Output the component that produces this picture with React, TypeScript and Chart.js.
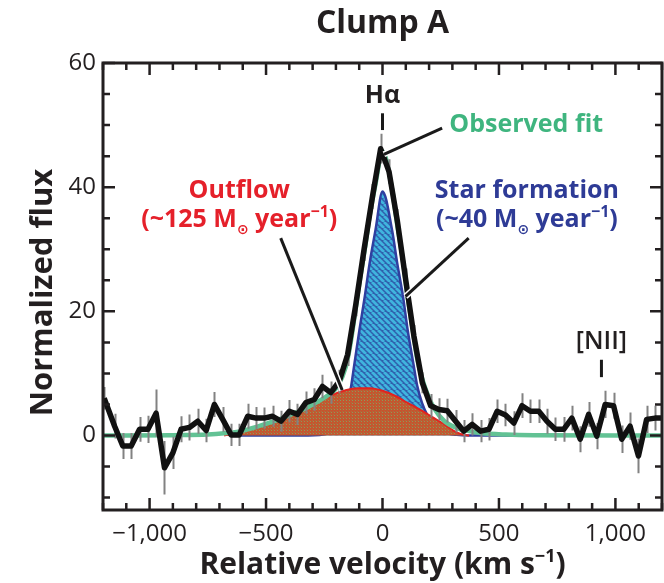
import React, { useEffect, useRef } from "react";
import { Chart, registerables } from "chart.js";

Chart.register(...registerables);

const FONT = "'Open Sans', 'Noto Sans', 'DejaVu Sans', sans-serif";

// ---- Observed spectrum (black) with error bars ----
const observedVelocity = [
  -1195, -1150, -1115, -1079, -1043, -1007, -972, -936, -900, -865, -829, -793, -757, -722, -686, -650, -615,
  -579, -543, -508, -472, -436, -400, -365, -329, -293, -258, -222, -186, -150, -115, -79, -43, -8, 28, 64,
  100, 135, 171, 207, 242, 278, 314, 349, 385, 421, 457, 492, 528, 564, 599, 635, 671, 706, 742, 778, 813,
  849, 885, 920, 956, 992, 1027, 1063, 1099, 1134, 1170, 1200,
];
const observedFlux = [
  6.0, 1.5, -1.7, -1.7, 1.0, 1.0, 3.6, -5.2, -2.8, 1.0, 1.3, 2.3, 0.8, 5.0, 2.6, 0.1, 0.1,
  3.1, 2.8, 2.8, 3.1, 2.3, 3.9, 3.4, 5.3, 5.8, 7.9, 6.9, 8.7, 13.0, 21.0, 30.0, 38.5, 46.2, 42.5, 34.5,
  25.0, 16.0, 8.5, 4.8, 4.2, 4.0, 2.3, 0.7, 1.8, 0.7, 1.0, 3.9, 3.3, 2.0, 4.8, 3.9, 3.9, 2.3, 1.0, 1.0, 2.8,
  -0.6, 3.4, -0.1, 5.0, 4.8, -0.6, 1.5, -3.3, 2.6, 2.8, 2.8,
];
const observedError = [
  1.8, 2.0, 2.1, 2.1, 2.0, 2.2, 3.8, 4.3, 2.6, 2.1, 2.1, 2.0, 1.9, 2.0, 2.0, 1.8, 1.8,
  2.0, 1.8, 1.7, 1.7, 1.7, 1.8, 1.7, 1.8, 1.8, 1.9, 1.8, 1.9, 1.8, 1.8, 1.9, 2.0, 2.4, 2.0, 2.0,
  1.9, 1.8, 1.7, 1.9, 1.8, 1.9, 1.8, 1.8, 1.8, 1.8, 1.8, 1.9, 1.8, 1.9, 2.0, 1.9, 1.9, 2.0, 1.9, 2.0, 2.0,
  2.1, 2.0, 2.1, 2.2, 2.1, 2.2, 2.2, 2.8, 2.2, 2.0, 0,
];

// ---- Observed fit (green) ----
const fitVelocity = [
  -1200, -900, -750, -680, -608, -531, -465, -425, -352, -319, -266, -234, -193, -158, -137, -120, -99, -76,
  -55, -30, 0, 41, 63, 88, 108, 132, 149, 170, 196, 223, 266, 319, 372, 420, 530, 650, 1200,
];
const fitFlux = [
  0, 0.05, 0.15, 0.35, 0.7, 1.5, 2.3, 2.9, 4.0, 4.6, 5.7, 6.5, 7.9, 11.0, 14.9, 19.2, 24.6, 30.0,
  35.4, 40.5, 45.8, 39.7, 34.0, 28.1, 22.3, 16.5, 12.4, 9.2, 6.4, 4.3, 2.3, 1.2, 0.7, 0.4, 0.15, 0.05, 0,
];

// ---- Outflow component (red) ----
const outflowVelocity = [
  -680, -651, -608, -531, -465, -425, -352, -319, -266, -212, -159, -106, -53, 0, 53, 106, 159, 212, 266, 308, 340, 372,
];
const outflowFlux = [
  0, 0.2, 0.6, 1.4, 2.2, 2.8, 4.0, 4.6, 5.6, 6.6, 7.3, 7.6, 7.6, 7.2, 6.4, 5.3, 4.2, 3.0, 1.8, 0.7, 0.2, 0,
];

// ---- Star formation component (blue) ----
const starVelocity = [
  -650, -319, -234, -193, -158, -137, -120, -99, -76, -55, -30, 0, 41, 63, 88, 108, 132, 149, 170, 196, 223, 266, 319, 372, 600,
];
const starFlux = [
  0, 0, 0.3, 1.0, 3.7, 7.4, 11.7, 17, 22.4, 27.8, 33.1, 39.3, 33.1, 27.8, 22.4, 17, 11.7, 8.0, 5.2, 3.0, 1.5, 0.5, 0.1, 0, 0,
];

// ---- Axes ----
const xMin = -1200;
const xMax = 1200;
const yMin = -12;
const yMax = 60;
const xMajorTicks = [-1000, -500, 0, 500, 1000];
const xTickLabels = ["\u22121,000", "\u2212500", "0", "500", "1,000"];
const xMinorStep = 100;
const yMajorTicks = [0, 20, 40, 60];
const yTickLabels = ["0", "20", "40", "60"];
const yMinorStep = 5;

const chartTitle = "Clump A";
const xTitle = "Relative velocity (km s";
const xTitleSup = "\u22121";
const yTitle = "Normalized flux";

// ---- Annotations (data coordinates) ----
const lineMarkers = [
  { label: "H\u03b1", v: 0, textY: 53.6, top: 51.9, bottom: 49.2 },
  { label: "[NII]", v: 940, textY: 14.0, top: 12.2, bottom: 9.4 },
];
const leaderLines = [
  { from: [256, 49.5], to: [6, 45.3] },
  { from: [-437, 31.8], to: [-173, 7.3] },
  { from: [370, 31.8], to: [99, 22.4] },
];

function makeStripePattern(ctx: CanvasRenderingContext2D): CanvasPattern | string {
  const c = document.createElement("canvas");
  c.width = 6;
  c.height = 6;
  const g = c.getContext("2d");
  if (!g) return "#3a86c4";
  g.fillStyle = "#2f60ad";
  g.fillRect(0, 0, 6, 6);
  g.strokeStyle = "#40b4de";
  g.lineWidth = 2.8;
  g.beginPath();
  for (let o = -6; o <= 6; o += 6) {
    g.moveTo(o, 0);
    g.lineTo(o + 6, 6);
  }
  g.stroke();
  return ctx.createPattern(c, "repeat") || "#3a86c4";
}

function makeDotPattern(ctx: CanvasRenderingContext2D): CanvasPattern | string {
  const c = document.createElement("canvas");
  c.width = 3;
  c.height = 3;
  const g = c.getContext("2d");
  if (!g) return "#b8603a";
  g.fillStyle = "#c4562f";
  g.fillRect(0, 0, 3, 3);
  g.fillStyle = "#8a9c5a";
  g.fillRect(1, 1, 1, 1);
  g.fillStyle = "#a87040";
  g.fillRect(0, 0, 1, 1);
  return ctx.createPattern(c, "repeat") || "#b8603a";
}

type Run = { text: string; size: number; dy?: number };

function drawRuns(
  ctx: CanvasRenderingContext2D,
  runs: Run[],
  cx: number,
  baseline: number,
  color: string,
  weight: string
) {
  let total = 0;
  const widths: number[] = [];
  for (const r of runs) {
    ctx.font = `${weight} ${r.size}px ${FONT}`;
    const w = ctx.measureText(r.text).width;
    widths.push(w);
    total += w;
  }
  let x = cx - total / 2;
  ctx.textAlign = "left";
  ctx.textBaseline = "alphabetic";
  ctx.fillStyle = color;
  runs.forEach((r, i) => {
    ctx.font = `${weight} ${r.size}px ${FONT}`;
    ctx.fillText(r.text, x, baseline + (r.dy || 0));
    x += widths[i];
  });
}

const errorBarPlugin = {
  id: "errorBars",
  beforeDatasetDraw(chart: any, args: any) {
    if (args.index !== 0) return;
    const { ctx, scales } = chart;
    const xs = scales.x;
    const ys = scales.y;
    ctx.save();
    ctx.strokeStyle = "#828282";
    ctx.lineWidth = 2;
    ctx.beginPath();
    observedVelocity.forEach((v, i) => {
      const e = observedError[i];
      if (!e) return;
      const px = Math.round(xs.getPixelForValue(v)) + 0.5;
      ctx.moveTo(px, ys.getPixelForValue(observedFlux[i] + e));
      ctx.lineTo(px, ys.getPixelForValue(observedFlux[i] - e));
    });
    ctx.stroke();
    ctx.restore();
  },
};

const decorPlugin = {
  id: "decor",
  afterDatasetsDraw(chart: any) {
    const { ctx, scales, chartArea } = chart;
    const xs = scales.x;
    const ys = scales.y;
    const { left, right, top, bottom } = chartArea;
    ctx.save();
    ctx.strokeStyle = "#231f20";
    ctx.lineCap = "butt";

    // ticks on all sides
    ctx.lineWidth = 2.5;
    ctx.beginPath();
    for (let v = Math.ceil(xMin / xMinorStep) * xMinorStep; v <= xMax; v += xMinorStep) {
      const px = xs.getPixelForValue(v);
      const len = xMajorTicks.includes(v) ? 12 : 7;
      ctx.moveTo(px, bottom);
      ctx.lineTo(px, bottom - len);
      ctx.moveTo(px, top);
      ctx.lineTo(px, top + len);
    }
    for (let v = Math.ceil(yMin / yMinorStep) * yMinorStep; v <= yMax; v += yMinorStep) {
      const py = ys.getPixelForValue(v);
      const len = yMajorTicks.includes(v) ? 12 : 7;
      ctx.moveTo(left, py);
      ctx.lineTo(left + len, py);
      ctx.moveTo(right, py);
      ctx.lineTo(right - len, py);
    }
    ctx.stroke();

    // frame
    ctx.lineWidth = 3;
    ctx.strokeRect(left, top, right - left, bottom - top);

    // leader lines with white halo
    for (const l of leaderLines) {
      const x1 = xs.getPixelForValue(l.from[0]);
      const y1 = ys.getPixelForValue(l.from[1]);
      const x2 = xs.getPixelForValue(l.to[0]);
      const y2 = ys.getPixelForValue(l.to[1]);
      ctx.strokeStyle = "#ffffff";
      ctx.lineWidth = 6;
      ctx.beginPath();
      ctx.moveTo(x1, y1);
      ctx.lineTo(x2, y2);
      ctx.stroke();
      ctx.strokeStyle = "#1a1a1a";
      ctx.lineWidth = 3;
      ctx.beginPath();
      ctx.moveTo(x1, y1);
      ctx.lineTo(x2, y2);
      ctx.stroke();
    }

    // line markers (H alpha, [NII])
    lineMarkers.forEach((m, i) => {
      const px = xs.getPixelForValue(m.v);
      ctx.strokeStyle = "#1a1a1a";
      ctx.lineWidth = 3;
      ctx.beginPath();
      ctx.moveTo(px, ys.getPixelForValue(m.top));
      ctx.lineTo(px, ys.getPixelForValue(m.bottom));
      ctx.stroke();
      drawRuns(ctx, [{ text: m.label, size: 25 }], px, ys.getPixelForValue(m.textY), "#231f20", i === 0 ? "700" : "600");
    });

    // component labels
    const outX = xs.getPixelForValue(-615);
    drawRuns(ctx, [{ text: "Outflow", size: 25 }], outX, ys.getPixelForValue(38.2), "#e5202a", "700");
    drawRuns(
      ctx,
      [
        { text: "(~125 M", size: 25 },
        { text: "\u2299", size: 14, dy: 7 },
        { text: " year", size: 25 },
        { text: "\u22121", size: 16, dy: -10 },
        { text: ")", size: 25 },
      ],
      outX,
      ys.getPixelForValue(33.6),
      "#e5202a",
      "700"
    );
    const sfX = xs.getPixelForValue(620);
    drawRuns(ctx, [{ text: "Star formation", size: 25 }], sfX, ys.getPixelForValue(38.2), "#2e3b96", "700");
    drawRuns(
      ctx,
      [
        { text: "(~40 M", size: 25 },
        { text: "\u2299", size: 14, dy: 7 },
        { text: " year", size: 25 },
        { text: "\u22121", size: 16, dy: -10 },
        { text: ")", size: 25 },
      ],
      sfX,
      ys.getPixelForValue(33.6),
      "#2e3b96",
      "700"
    );
    drawRuns(ctx, [{ text: "Observed fit", size: 25 }], xs.getPixelForValue(617), ys.getPixelForValue(48.9), "#3fb57f", "700");
    ctx.restore();
  },
  afterDraw(chart: any) {
    const { ctx, chartArea } = chart;
    const cx = (chartArea.left + chartArea.right) / 2;
    ctx.save();
    drawRuns(ctx, [{ text: chartTitle, size: 32 }], cx, 33, "#231f20", "700");
    drawRuns(
      ctx,
      [
        { text: xTitle, size: 30 },
        { text: xTitleSup, size: 18, dy: -12 },
        { text: ")", size: 30 },
      ],
      cx,
      574,
      "#231f20",
      "700"
    );
    ctx.translate(52, (chartArea.top + chartArea.bottom) / 2 + 6);
    ctx.rotate(-Math.PI / 2);
    drawRuns(ctx, [{ text: yTitle, size: 31 }], 0, 0, "#231f20", "700");
    ctx.restore();
  },
};

export default function App() {
  const ref = useRef<HTMLCanvasElement | null>(null);
  useEffect(() => {
    const canvas = ref.current;
    if (!canvas) return;
    const ctx = canvas.getContext("2d");
    if (!ctx) return;
    const toXY = (xs: number[], ys: number[]) => xs.map((x, i) => ({ x, y: ys[i] }));
    const tickFont = { family: FONT, size: 24, weight: "normal" as const };
    const chart = new Chart(ctx, {
      type: "line",
      data: {
        datasets: [
          {
            label: "Observed",
            data: toXY(observedVelocity, observedFlux),
            borderColor: "#111111",
            borderWidth: 5.5,
            pointRadius: 0,
            tension: 0,
            fill: false,
            borderJoinStyle: "round",
            order: 1,
          },
          {
            label: "Observed fit",
            data: toXY(fitVelocity, fitFlux),
            borderColor: "#62c294",
            borderWidth: 4.5,
            pointRadius: 0,
            cubicInterpolationMode: "monotone",
            fill: false,
            order: 2,
          },
          {
            label: "Outflow",
            data: toXY(outflowVelocity, outflowFlux),
            borderColor: "#e3231f",
            borderWidth: 2,
            backgroundColor: makeDotPattern(ctx) as any,
            pointRadius: 0,
            cubicInterpolationMode: "monotone",
            fill: "origin",
            order: 3,
          },
          {
            label: "Star formation",
            data: toXY(starVelocity, starFlux),
            borderColor: "#2f3fa0",
            borderWidth: 2.5,
            backgroundColor: makeStripePattern(ctx) as any,
            pointRadius: 0,
            cubicInterpolationMode: "monotone",
            fill: "origin",
            order: 4,
          },
        ],
      },
      options: {
        animation: false,
        responsive: false,
        events: [],
        layout: { padding: { top: 63, right: 2, bottom: 0, left: 0 } },
        plugins: {
          legend: { display: false },
          title: { display: false },
          tooltip: { enabled: false },
        },
        scales: {
          x: {
            type: "linear",
            min: xMin,
            max: xMax,
            grid: { display: false, drawTicks: false },
            border: { display: false },
            ticks: {
              font: tickFont,
              color: "#231f20",
              padding: 10,
              maxRotation: 0,
              autoSkip: false,
              callback: (value: any) => {
                const i = xMajorTicks.indexOf(Number(value));
                return i >= 0 ? xTickLabels[i] : "";
              },
            },
            afterBuildTicks: (scale: any) => {
              scale.ticks = xMajorTicks.map((v) => ({ value: v }));
            },
            afterFit: (scale: any) => {
              scale.height = 73;
            },
          },
          y: {
            type: "linear",
            min: yMin,
            max: yMax,
            grid: { display: false, drawTicks: false },
            border: { display: false },
            ticks: {
              font: tickFont,
              color: "#231f20",
              padding: 7,
              autoSkip: false,
              callback: (value: any) => {
                const i = yMajorTicks.indexOf(Number(value));
                return i >= 0 ? yTickLabels[i] : "";
              },
            },
            afterBuildTicks: (scale: any) => {
              scale.ticks = yMajorTicks.map((v) => ({ value: v }));
            },
            afterFit: (scale: any) => {
              scale.width = 103;
            },
          },
        },
      },
      plugins: [errorBarPlugin, decorPlugin],
    });
    return () => chart.destroy();
  }, []);

  return (
    <div style={{ position: "absolute", left: 0, top: 0, width: 664, height: 583, background: "#fff" }}>
      <canvas ref={ref} width={664} height={583} style={{ display: "block", width: 664, height: 583 }} />
    </div>
  );
}
